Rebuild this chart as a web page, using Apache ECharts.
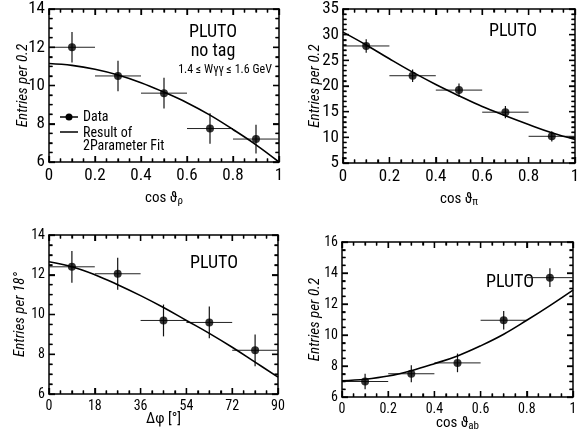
<!DOCTYPE html>
<html>
<head>
<meta charset="utf-8">
<script src="https://cdn.jsdelivr.net/npm/echarts@6/dist/echarts.min.js"></script>
<style>html,body{margin:0;padding:0;background:#fff;}#c{width:581px;height:439px;}</style>
</head>
<body>
<div id="c"></div>
<script>
// ---- data ----
const binCenters = [0.1, 0.3, 0.5, 0.7, 0.9];
const binHalf = 0.1;
const rhoY   = [12.0, 10.5, 9.6, 7.75, 7.2];
const rhoErr = [0.8, 0.8, 0.8, 0.8, 0.75];
const piY    = [27.8, 22.0, 19.2, 14.9, 10.2];
const piErr  = [1.3, 1.2, 1.3, 1.2, 1.0];
const phiCenters = [9, 27, 45, 63, 81];
const phiHalf = 9;
const phiY   = [12.4, 12.05, 9.7, 9.6, 8.2];
const phiErr = [0.8, 0.8, 0.8, 0.8, 0.8];
const abY    = [7.0, 7.5, 8.2, 10.95, 13.7];
const abErr  = [0.5, 0.55, 0.6, 0.6, 0.6];

const fitX    = [0, 0.1, 0.2, 0.3, 0.4, 0.5, 0.6, 0.7, 0.8, 0.9, 1.0];
const rhoFit  = [11.15, 11.05, 10.85, 10.55, 10.15, 9.65, 9.1, 8.45, 7.7, 6.9, 6.0];
const piFit   = [30.5, 28.0, 25.3, 22.7, 20.3, 18.1, 16.0, 14.2, 12.5, 10.9, 9.6];
const phiFitX = [0, 9, 18, 27, 36, 45, 54, 63, 72, 81, 90];
const phiFit  = [12.65, 12.4, 12.0, 11.5, 10.95, 10.35, 9.7, 9.05, 8.35, 7.6, 6.85];
const abFit   = [7.05, 7.15, 7.35, 7.7, 8.15, 8.65, 9.3, 10.05, 10.95, 11.9, 12.9];

// ---- tick labels ----
const cosTicks  = [0, 0.2, 0.4, 0.6, 0.8, 1];
const phiTicks  = [0, 18, 36, 54, 72, 90];
const rhoYTicks = [6, 8, 10, 12, 14];
const piYTicks  = [5, 10, 15, 20, 25, 30, 35];
const phiYTicks = [6, 8, 10, 12, 14];
const abYTicks  = [6, 8, 10, 12, 14, 16];

const FONT = "'Roboto Condensed','DejaVu Sans Condensed','Liberation Sans',sans-serif";

const grids = [
  {left: 49, top: 9, width: 230, height: 153},
  {left: 343, top: 9, width: 232, height: 154},
  {left: 49, top: 235, width: 229, height: 159},
  {left: 342, top: 242, width: 231, height: 155}
];

const panels = [
  {xt: cosTicks, yt: rhoYTicks, yMinor: 4, yName: 'Entries per 0.2', yGap: 18, lab: 17, xGap: 27,
   xName: '{n|cos \u03d1}{s|\u03c1}', cx: binCenters, cy: rhoY, ce: rhoErr, hw: binHalf, fx: fitX, fy: rhoFit},
  {xt: cosTicks, yt: piYTicks, yMinor: 5, yName: 'Entries per 0.2', yGap: 20, lab: 17, xGap: 27,
   xName: '{n|cos \u03d1}{s|\u03c0}', cx: binCenters, cy: piY, ce: piErr, hw: binHalf, fx: fitX, fy: piFit},
  {xt: phiTicks, yt: phiYTicks, yMinor: 4, yName: 'Entries per 18\u00b0', yGap: 21, lab: 14, xGap: 18,
   xName: '{n|\u0394\u03c6 [\u00b0]}', cx: phiCenters, cy: phiY, ce: phiErr, hw: phiHalf, fx: phiFitX, fy: phiFit},
  {xt: cosTicks, yt: abYTicks, yMinor: 4, yName: 'Entries per 0.2', yGap: 19, lab: 14, xGap: 17,
   xName: '{n|cos \u03d1}{s|ab}', cx: binCenters, cy: abY, ce: abErr, hw: binHalf, fx: fitX, fy: abFit}
];

function withMinor(ticks, n) {
  const out = [];
  for (let k = 0; k < ticks.length; k++) {
    out.push([ticks[k], 1]);
    if (k < ticks.length - 1) {
      for (let j = 1; j < n; j++) out.push([ticks[k] + (ticks[k + 1] - ticks[k]) * j / n, 0]);
    }
  }
  return out;
}

const MAJ = 6, MIN = 3.5, TW = 1.3;
const axisLine = {show: true, onZero: false, lineStyle: {color: '#000', width: 1.5}};
const tick = () => ({show: true, inside: true, length: MAJ, lineStyle: {color: '#000', width: TW}});
const minor = (n) => ({show: true, splitNumber: n, length: MIN, lineStyle: {color: '#000', width: TW}});

const xAxis = [], yAxis = [], series = [];
panels.forEach((p, i) => {
  const xmin = p.xt[0], xmax = p.xt[p.xt.length - 1], xint = p.xt[1] - p.xt[0];
  const ymin = p.yt[0], ymax = p.yt[p.yt.length - 1], yint = p.yt[1] - p.yt[0];
  xAxis.push({type: 'value', gridIndex: i, position: 'bottom', min: xmin, max: xmax, interval: xint,
    axisLine, axisTick: tick(), minorTick: minor(4), splitLine: {show: false},
    axisLabel: {color: '#000', fontFamily: FONT, fontSize: p.lab, margin: 5},
    name: p.xName, nameLocation: 'middle', nameGap: p.xGap, nameMoveOverlap: false,
    nameTextStyle: {color: '#000', fontFamily: FONT, rich: {
      n: {fontSize: 15, fontFamily: FONT, color: '#000'},
      s: {fontSize: 11, fontFamily: FONT, color: '#000', verticalAlign: 'bottom', padding: [7, 0, 0, 0]}}}});
  xAxis.push({type: 'value', gridIndex: i, position: 'top', min: xmin, max: xmax, interval: xint,
    axisLine, axisTick: tick(), minorTick: minor(4), splitLine: {show: false}, axisLabel: {show: false}});
  yAxis.push({type: 'value', gridIndex: i, position: 'left', min: ymin, max: ymax, interval: yint,
    axisLine, axisTick: tick(), minorTick: minor(p.yMinor), splitLine: {show: false},
    axisLabel: {color: '#000', fontFamily: FONT, fontSize: p.lab, margin: 4},
    name: p.yName, nameLocation: 'middle', nameGap: p.yGap, nameRotate: 90, nameMoveOverlap: false,
    nameTextStyle: {color: '#000', fontFamily: FONT, fontSize: 15, fontStyle: 'italic'}});
  yAxis.push({type: 'value', gridIndex: i, position: 'right', min: ymin, max: ymax, interval: yint,
    axisLine, axisTick: tick(), minorTick: minor(p.yMinor), splitLine: {show: false}, axisLabel: {show: false}});
  const xi = i * 2, yi = i * 2;

  // inward tick marks on all four sides as thin rect symbols at the axis values
  const xt = withMinor(p.xt, 4), yt = withMinor(p.yt, p.yMinor);
  const tickData = [];
  xt.forEach(t => {
    const L = t[1] ? MAJ : MIN;
    tickData.push({value: [t[0], ymin], symbolSize: [TW, L], symbolOffset: [0, -L / 2]});
    tickData.push({value: [t[0], ymax], symbolSize: [TW, L], symbolOffset: [0, L / 2]});
  });
  yt.forEach(t => {
    const L = t[1] ? MAJ : MIN;
    tickData.push({value: [xmin, t[0]], symbolSize: [L, TW], symbolOffset: [L / 2, 0]});
    tickData.push({value: [xmax, t[0]], symbolSize: [L, TW], symbolOffset: [-L / 2, 0]});
  });
  series.push({type: 'scatter', xAxisIndex: xi, yAxisIndex: yi, symbol: 'rect', clip: false, silent: true,
    itemStyle: {color: '#000', opacity: 1}, data: tickData, z: 6, animation: false});

  // error bars
  series.push({
    type: 'custom', xAxisIndex: xi, yAxisIndex: yi, silent: true, z: 3,
    data: p.cx.map((x, k) => [x, p.cy[k], p.ce[k], p.hw]), encode: {x: 0, y: 1},
    renderItem: function (params, api) {
      const x = api.value(0), y = api.value(1), e = api.value(2), h = api.value(3);
      const a = api.coord([x - h, y]), b = api.coord([x + h, y]);
      const c = api.coord([x, y - e]), d = api.coord([x, y + e]);
      return {type: 'group', children: [
        {type: 'line', shape: {x1: a[0], y1: a[1], x2: b[0], y2: b[1]}, style: {stroke: '#222', lineWidth: 1}},
        {type: 'line', shape: {x1: c[0], y1: c[1], x2: d[0], y2: d[1]}, style: {stroke: '#111', lineWidth: 1.2}}
      ]};
    }
  });
  series.push({type: 'scatter', xAxisIndex: xi, yAxisIndex: yi, symbol: 'circle', symbolSize: 8,
    itemStyle: {color: '#000'}, data: p.cx.map((x, k) => [x, p.cy[k]]), silent: true, z: 5});
  series.push({type: 'line', xAxisIndex: xi, yAxisIndex: yi, smooth: 0.4, showSymbol: false,
    lineStyle: {color: '#000', width: 1.6}, data: p.fx.map((x, k) => [x, p.fy[k]]), silent: true, z: 4});
});

const T = (x, y, t, size, align) => ({type: 'text', x: x, y: y,
  style: {text: t, fill: '#000', font: size + 'px ' + FONT, textAlign: align || 'left', textVerticalAlign: 'middle'}});

const graphic = [
  T(213, 32, 'PLUTO', 18, 'center'),
  T(213, 51, 'no tag', 18, 'center'),
  T(225, 70, '1.4 \u2264 W\u03b3\u03b3 \u2264 1.6 GeV', 12, 'center'),
  T(513, 31, 'PLUTO', 18, 'center'),
  T(214, 263, 'PLUTO', 18, 'center'),
  T(510, 282, 'PLUTO', 18, 'center'),
  // legend (panel 1)
  {type: 'line', shape: {x1: 60, y1: 117, x2: 78, y2: 117}, style: {stroke: '#000', lineWidth: 1.5}},
  {type: 'circle', shape: {cx: 69, cy: 117, r: 3.5}, style: {fill: '#000'}},
  T(83, 117, 'Data', 14),
  {type: 'line', shape: {x1: 60, y1: 132, x2: 78, y2: 132}, style: {stroke: '#000', lineWidth: 1.5}},
  T(83, 133, 'Result of', 14),
  T(83, 146, '2Parameter Fit', 14)
];

const chart = echarts.init(document.getElementById('c'), null, {renderer: 'canvas'});
chart.setOption({
  animation: false,
  backgroundColor: '#fff',
  grid: grids.map(g => Object.assign({outerBoundsMode: 'none', containLabel: false}, g)),
  xAxis, yAxis, series, graphic
});
</script>
</body>
</html>
